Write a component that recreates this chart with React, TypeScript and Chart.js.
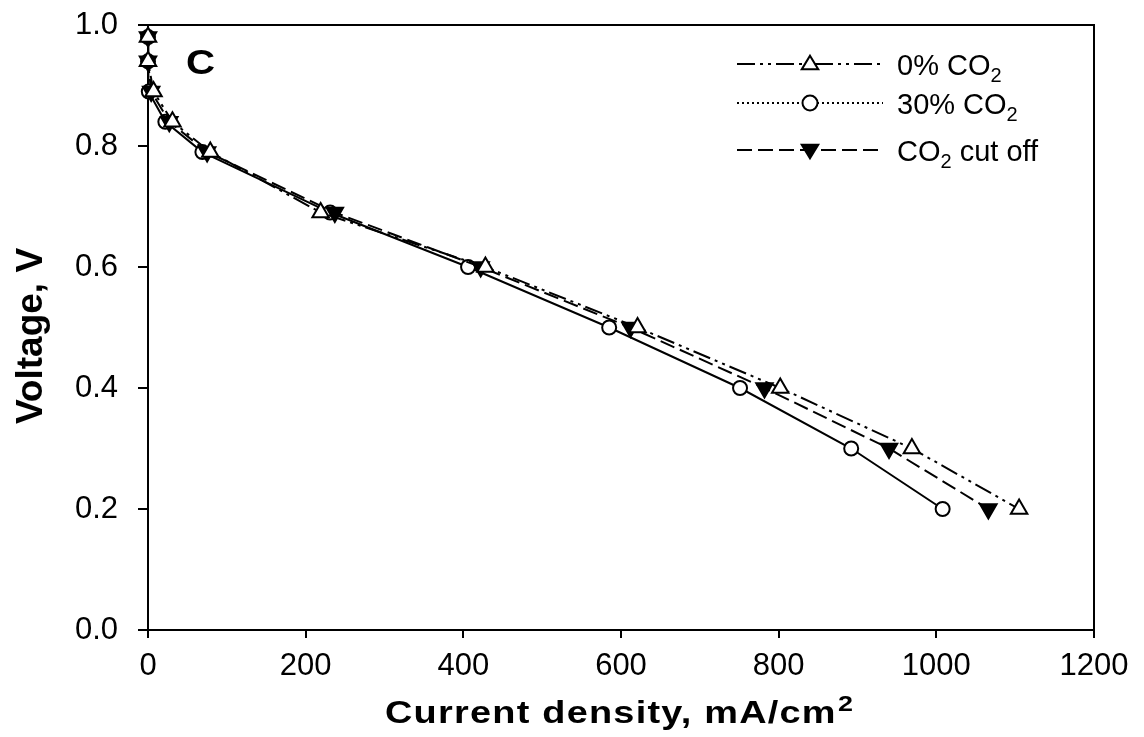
import React, { useEffect, useRef } from "react";
import { Chart, registerables } from "chart.js";

Chart.register(...registerables);

const voltages = [0.98, 0.94, 0.89, 0.84, 0.79, 0.69, 0.6, 0.5, 0.4, 0.3, 0.2];
const current0 = [0, 0, 7, 31, 79, 219, 428, 621, 802, 969, 1105];
const current30 = [0, 0, 1, 22, 69, 231, 406, 585, 751, 892, 1008];
const currentCut = [0, 0, 4, 27, 75, 237, 422, 612, 782, 940, 1066];
const xTicks = [0, 200, 400, 600, 800, 1000, 1200];
const yTicks = [0, 0.2, 0.4, 0.6, 0.8, 1.0];
const xTitleMain = "Current density, mA/cm";
const xTitleSup = "2";
const yTitle = "Voltage, V";
const panelLabel = "C";

const DASH_0 = [18, 5, 3, 5, 3, 5];
const DASH_30_LEGEND = [2, 3];
const DASH_CUT = [15, 6];

const legendItems = [
  { main: "0% CO", sub: "2", tail: "", dash: DASH_0, marker: "tri", fill: "#fff" },
  { main: "30% CO", sub: "2", tail: "", dash: DASH_30_LEGEND, marker: "circle", fill: "#fff" },
  { main: "CO", sub: "2", tail: " cut off", dash: DASH_CUT, marker: "tridown", fill: "#000" },
];

const FONT = "'Liberation Sans', Arial, sans-serif";

function drawMarker(ctx: CanvasRenderingContext2D, kind: string, x: number, y: number, r: number, fill: string) {
  ctx.save();
  ctx.setLineDash([]);
  ctx.lineWidth = 2;
  ctx.strokeStyle = "#000";
  ctx.fillStyle = fill;
  ctx.beginPath();
  if (kind === "circle") {
    ctx.arc(x, y, r, 0, Math.PI * 2);
  } else {
    const s = kind === "tri" ? 1 : -1;
    const a = r * 1.1;
    ctx.moveTo(x, y - s * a);
    ctx.lineTo(x + a * 1.0, y + s * a * 0.65);
    ctx.lineTo(x - a * 1.0, y + s * a * 0.65);
    ctx.closePath();
  }
  ctx.fill();
  ctx.stroke();
  ctx.restore();
}

function drawXTitle(ctx: CanvasRenderingContext2D, cx: number, baseline: number, targetWidth: number) {
  ctx.save();
  const mainFont = "bold 31px " + FONT;
  const supFont = "bold 22px " + FONT;
  (ctx as any).letterSpacing = "1px";
  ctx.font = mainFont;
  const wm = ctx.measureText(xTitleMain).width;
  ctx.font = supFont;
  const ws = ctx.measureText(xTitleSup).width;
  const sx = targetWidth / (wm + ws);
  ctx.translate(cx - targetWidth / 2, baseline);
  ctx.scale(sx, 1);
  ctx.textAlign = "left";
  ctx.textBaseline = "alphabetic";
  ctx.fillStyle = "#000";
  ctx.font = mainFont;
  ctx.fillText(xTitleMain, 0, 0);
  ctx.font = supFont;
  ctx.fillText(xTitleSup, wm + 1, -12);
  ctx.restore();
}

const decorPlugin = {
  id: "decor",
  afterDatasetsDraw(chart: any) {
    const ctx: CanvasRenderingContext2D = chart.ctx;
    const a = chart.chartArea;
    ctx.save();
    ctx.strokeStyle = "#000";
    ctx.lineWidth = 2;
    ctx.setLineDash([]);
    ctx.beginPath();
    ctx.moveTo(a.left, a.top);
    ctx.lineTo(a.right, a.top);
    ctx.lineTo(a.right, a.bottom);
    ctx.stroke();
    ctx.beginPath();
    ctx.moveTo(a.right, a.bottom);
    ctx.lineTo(a.right, a.bottom + 8);
    ctx.stroke();

    // axis titles
    drawXTitle(ctx, 619, 723, 468);
    ctx.save();
    ctx.translate(42, 336);
    ctx.rotate(-Math.PI / 2);
    ctx.font = "bold 37px " + FONT;
    ctx.textAlign = "center";
    ctx.textBaseline = "alphabetic";
    ctx.fillStyle = "#000";
    ctx.fillText(yTitle, 0, 0);
    ctx.restore();

    // panel letter
    ctx.save();
    ctx.fillStyle = "#000";
    ctx.font = "bold 35px " + FONT;
    ctx.textBaseline = "alphabetic";
    ctx.textAlign = "left";
    ctx.translate(186, 74);
    ctx.scale(1.15, 1);
    ctx.fillText(panelLabel, 0, 0);
    ctx.restore();

    // legend
    const rows = [64, 103, 150];
    const bases = [75, 114, 161];
    legendItems.forEach((it, i) => {
      const y = rows[i];
      ctx.save();
      ctx.lineWidth = 2;
      ctx.strokeStyle = "#000";
      ctx.setLineDash(it.dash);
      ctx.beginPath();
      ctx.moveTo(737, y);
      ctx.lineTo(883, y);
      ctx.stroke();
      ctx.restore();
      drawMarker(ctx, it.marker, 810, y, 7.5, it.fill);
      ctx.fillStyle = "#000";
      ctx.textAlign = "left";
      ctx.textBaseline = "alphabetic";
      ctx.font = "29px " + FONT;
      let x = 897;
      const base = bases[i];
      ctx.fillText(it.main, x, base);
      x += ctx.measureText(it.main).width;
      ctx.font = "20px " + FONT;
      ctx.fillText(it.sub, x, base + 7);
      x += ctx.measureText(it.sub).width;
      ctx.font = "29px " + FONT;
      ctx.fillText(it.tail, x, base);
    });
    ctx.restore();
  },
};

function series(xs: number[]) {
  return xs.map((x, i) => ({ x, y: voltages[i] }));
}

export default function App() {
  const ref = useRef<HTMLCanvasElement | null>(null);
  useEffect(() => {
    document.body.style.margin = "0";
    const canvas = ref.current!;
    const chart = new Chart(canvas, {
      type: "scatter",
      data: {
        datasets: [
          {
            label: "0% CO2",
            data: series(current0),
            showLine: true,
            clip: false,
            borderColor: "#000",
            borderWidth: 2,
            borderDash: DASH_0,
            pointStyle: "triangle",
            pointRadius: 9.5,
            pointBorderWidth: 2,
            pointBackgroundColor: "#fff",
            pointBorderColor: "#000",
            order: 1,
          },
          {
            label: "CO2 cut off",
            data: series(currentCut),
            showLine: true,
            clip: false,
            borderColor: "#000",
            borderWidth: 2,
            borderDash: DASH_CUT,
            pointStyle: "triangle",
            rotation: 180,
            pointRadius: 9.5,
            pointBorderWidth: 2,
            pointBackgroundColor: "#000",
            pointBorderColor: "#000",
            order: 2,
          },
          {
            label: "30% CO2",
            data: series(current30),
            showLine: true,
            clip: false,
            borderColor: "#000",
            borderWidth: 2,
            pointStyle: "circle",
            pointRadius: 7,
            pointBorderWidth: 2,
            pointBackgroundColor: "#fff",
            pointBorderColor: "#000",
            order: 3,
          },
        ] as any,
      },
      options: {
        animation: false,
        responsive: false,
        maintainAspectRatio: false,
        layout: { padding: { top: 25, right: 50, left: 0, bottom: 0 } },
        plugins: { legend: { display: false }, tooltip: { enabled: false } },
        scales: {
          x: {
            type: "linear",
            min: 0,
            max: 1200,
            afterBuildTicks: (s: any) => {
              s.ticks = xTicks.map((v) => ({ value: v }));
            },
            afterFit: (s: any) => {
              s.height = 107;
              s.paddingLeft = 0;
              s.paddingRight = 0;
            },
            grid: { display: true, drawOnChartArea: false, drawTicks: true, tickLength: 8, color: "#000", lineWidth: 2 },
            border: { display: true, color: "#000", width: 2 },
            ticks: {
              color: "#000",
              font: { family: FONT, size: 31 },
              padding: 10,
              maxRotation: 0,
              callback: (v: any) => String(v),
            },
            title: { display: false },
          },
          y: {
            type: "linear",
            min: 0,
            max: 1,
            afterBuildTicks: (s: any) => {
              s.ticks = yTicks.map((v) => ({ value: v }));
            },
            afterFit: (s: any) => {
              s.width = 148;
              s.paddingTop = 0;
              s.paddingBottom = 0;
            },
            grid: { display: true, drawOnChartArea: false, drawTicks: true, tickLength: 10, color: "#000", lineWidth: 2 },
            border: { display: true, color: "#000", width: 2 },
            ticks: {
              color: "#000",
              font: { family: FONT, size: 31 },
              padding: 20,
              callback: (v: any) => Number(v).toFixed(1),
            },
            title: { display: false },
          },
        },
      } as any,
      plugins: [decorPlugin],
    });
    return () => chart.destroy();
  }, []);
  return (
    <div style={{ width: 1144, height: 737, position: "relative", background: "#fff" }}>
      <canvas ref={ref} width={1144} height={737} style={{ display: "block" }} />
    </div>
  );
}
